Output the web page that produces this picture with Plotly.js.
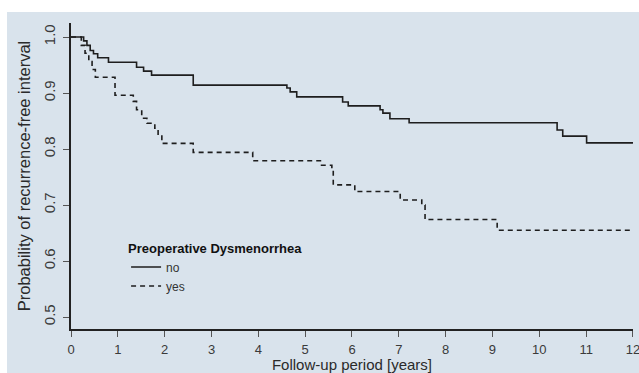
<!DOCTYPE html>
<html>
<head>
<meta charset="utf-8">
<script src="https://cdn.plot.ly/plotly-3.0.1.min.js"></script>
<style>
  html, body { margin:0; padding:0; background:#ffffff; }
  #bg { position:absolute; left:7px; top:12px; width:632px; height:361px; background:#d9e3ec; }
  #chart { position:absolute; left:0; top:0; width:639px; height:373px; }
</style>
</head>
<body>
<div id="bg"></div>
<div id="chart"></div>
<script>
// Kaplan-Meier step curves
const noTime = [0, 0.27, 0.34, 0.41, 0.48, 0.57, 0.80, 1.40, 1.55, 1.72, 2.61, 4.61, 4.68, 4.82, 5.80, 5.92, 6.60, 6.66, 6.81, 7.22, 10.38, 10.50, 11.01, 12];
const noSurv = [1.0, 0.993, 0.985, 0.976, 0.970, 0.963, 0.955, 0.946, 0.939, 0.932, 0.914, 0.909, 0.902, 0.893, 0.884, 0.877, 0.870, 0.864, 0.854, 0.847, 0.834, 0.823, 0.811, 0.811];

const yesTime = [0, 0.22, 0.30, 0.38, 0.45, 0.52, 0.94, 1.33, 1.40, 1.51, 1.62, 1.79, 1.86, 1.94, 2.61, 3.88, 5.35, 5.57, 5.60, 6.06, 7.03, 7.49, 7.56, 9.10, 12];
const yesSurv = [1.0, 0.985, 0.971, 0.956, 0.942, 0.928, 0.896, 0.885, 0.870, 0.855, 0.846, 0.837, 0.825, 0.810, 0.794, 0.779, 0.771, 0.764, 0.736, 0.724, 0.709, 0.700, 0.674, 0.655, 0.655];

const xTicks = [0,1,2,3,4,5,6,7,8,9,10,11,12];
const xTickText = ['0','1','2','3','4','5','6','7','8','9','10','11','12'];
const yTicks = [0.5,0.6,0.7,0.8,0.9,1.0];
const yTickText = ['0.5','0.6','0.7','0.8','0.9','1.0'];

const traces = [
  {x: noTime, y: noSurv, name: 'no', mode: 'lines', line: {shape: 'hv', color: '#1e1e1e', width: 1.6, dash: 'solid'}},
  {x: yesTime, y: yesSurv, name: 'yes', mode: 'lines', line: {shape: 'hv', color: '#1e1e1e', width: 1.6, dash: '5px,4px'}}
];

const layout = {
  width: 639, height: 373,
  margin: {l: 71, r: 6, t: 23, b: 44},
  paper_bgcolor: 'rgba(0,0,0,0)',
  plot_bgcolor: 'rgba(0,0,0,0)',
  font: {family: 'Liberation Sans, Arial, sans-serif', color: '#444', size: 12},
  xaxis: {
    range: [0, 12.0005], tickvals: xTicks, ticktext: xTickText, ticks: 'outside', ticklen: 6, tickcolor: '#555', tickwidth: 1,
    showline: true, linecolor: '#222', linewidth: 1.6, showgrid: false, zeroline: false,
    ticklabeloverflow: 'allow', ticklabelstandoff: 2,
    tickfont: {size: 13, color: '#3a3a3a'},
    title: {text: 'Follow-up period [years]', font: {size: 15, color: '#2a2a2a'}, standoff: 6}
  },
  yaxis: {
    range: [0.4786, 1.025], tickvals: yTicks, ticktext: yTickText, ticks: 'outside', ticklen: 6, tickcolor: '#555', tickwidth: 1,
    tickangle: -90, showline: true, linecolor: '#222', linewidth: 1.6, showgrid: false, zeroline: false,
    ticklabelstandoff: 2,
    tickfont: {size: 15, color: '#3a3a3a'},
    title: {text: 'Probability of recurrence-free interval', font: {size: 16.5, color: '#2a2a2a'}, standoff: 6}
  },
  showlegend: true,
  legend: {
    x: 0.098, y: 0.305, xanchor: 'left', yanchor: 'top',
    bgcolor: 'rgba(0,0,0,0)', borderwidth: 0,
    title: {text: '<b>Preoperative Dysmenorrhea</b>', font: {size: 13, color: '#111'}},
    font: {size: 12, color: '#333'},
    tracegroupgap: 0
  }
};

Plotly.newPlot('chart', traces, layout, {displayModeBar: false, staticPlot: true});
</script>
</body>
</html>
